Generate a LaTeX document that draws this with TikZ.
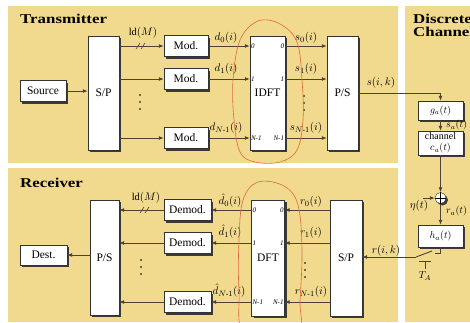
\documentclass[tikz,border=0pt]{standalone}
\usepackage{amsmath}
\usepackage{fontspec}
\setmainfont{Liberation Serif}
\newfontfamily\titlefont{Liberation Serif}[FakeStretch=1.25]
\usepackage{tikz}
\usetikzlibrary{arrows.meta,positioning,shadows}
\definecolor{PanelTan}{HTML}{F1D98E}
\definecolor{WireGrey}{HTML}{4A4234}
\definecolor{LoopRed}{HTML}{DE6A3C}
\definecolor{ShadeGrey}{HTML}{3C3A36}
\tikzset{
  panel/.style={fill=PanelTan,draw=none},
  block/.style={
    draw=black!80,
    fill=white,
    align=center,
    inner sep=1pt,
    minimum height=21pt,
    font=\fontsize{11.5}{13}\selectfont,
    drop shadow={shadow xshift=2pt,shadow yshift=-2pt,fill=ShadeGrey,opacity=1}
  },
  tallblock/.style={block,minimum width=31pt,minimum height=115pt},
  chanblock/.style={block,minimum width=45pt,minimum height=20pt,font=\fontsize{10}{11}\selectfont},
  flowarrow/.style={-{Latex[length=5pt,width=4pt]},line width=0.9pt,draw=WireGrey},
  wire/.style={line width=0.9pt,draw=WireGrey},
  sig/.style={font=\fontsize{11}{13}\selectfont,inner sep=0pt},
  port/.style={font=\fontsize{7}{8}\selectfont\itshape,inner sep=1pt},
  dotdot/.style={fill=WireGrey},
  paneltitle/.style={font=\titlefont\bfseries\fontsize{13.5}{13}\selectfont,inner sep=0pt,anchor=base west,align=left},
  redloop/.style={draw=LoopRed,line width=0.6pt}
}

\begin{document}
\begin{tikzpicture}[x=1pt,y=-1pt,node distance=20pt and 45pt]
    \fill[white] (0,0) rectangle (470,322);
    \clip (0,0) rectangle (470,322);
    % panels
    \fill[panel] (8,6) rectangle (398,163);
    \fill[panel] (8,168) rectangle (398,322);
    \fill[panel] (405,6) rectangle (475,322);
    \node[paneltitle] (txtitle) at (20,23) {Transmitter};
    \node[paneltitle] (rxtitle) at (20,187) {Receiver};
    \node[paneltitle] (chtitle) at (413,23) {Discrete};
    \node[paneltitle] (chtitleb) at (413,36) {Channel};

    % transmitter
    \node[block,minimum width=46pt] (source) at (43,91) {Source};
    \node[tallblock,minimum height=114pt] (sp) at (103.5,93) {S/P};
    \node[block,minimum width=44pt] (mod0) at (186,46) {Mod.};
    \node[block,minimum width=44pt] (mod1) at (186,79) {Mod.};
    \node[block,minimum width=44pt] (modN) at (186,138) {Mod.};
    \node[tallblock,minimum width=35pt,minimum height=114pt] (idft) at (267.5,93) {IDFT};
    \node[tallblock,minimum height=114pt] (ps) at (342.5,93) {P/S};

    \node[port,anchor=west] (iin0) at (idft.west |- mod0) {0};
    \node[port,anchor=west] (iin1) at (idft.west |- mod1) {1};
    \node[port,anchor=west] (iinN) at (idft.west |- modN) {N-1};
    \node[port,anchor=east] (iout0) at (idft.east |- mod0) {0};
    \node[port,anchor=east] (iout1) at (idft.east |- mod1) {1};
    \node[port,anchor=east] (ioutN) at (idft.east |- modN) {N-1};

    \draw[flowarrow] (source) -- (sp.west |- source);
    \draw[flowarrow] (sp.east |- mod0) -- (mod0);
    \draw[flowarrow] (sp.east |- mod1) -- (mod1);
    \draw[flowarrow] (sp.east |- modN) -- (modN);
    \draw[flowarrow] (mod0) -- (idft.west |- mod0);
    \draw[flowarrow] (mod1) -- (idft.west |- mod1);
    \draw[flowarrow] (modN) -- (idft.west |- modN);
    \draw[flowarrow] (idft.east |- mod0) -- (ps.west |- mod0);
    \draw[flowarrow] (idft.east |- mod1) -- (ps.west |- mod1);
    \draw[flowarrow] (idft.east |- modN) -- (ps.west |- modN);

    \node[sig,font=\fontsize{10.5}{12}\selectfont] (txbits) at (143,33) {ld$(M)$};
    \coordinate (txslash) at (141,46);
    \draw[wire,line width=0.6pt] ([xshift=-5pt,yshift=-3pt]txslash) -- ([xshift=-1pt,yshift=3pt]txslash)
      ([xshift=0pt,yshift=-3pt]txslash) -- ([xshift=4pt,yshift=3pt]txslash);
    \coordinate (txdotsA) at (140,102);
    \coordinate (txdotsB) at (304,103);
    \fill[dotdot] ([yshift=7pt]txdotsA) circle (1.2) (txdotsA) circle (1.2) ([yshift=-7pt]txdotsA) circle (1.2);
    \fill[dotdot] ([yshift=7pt]txdotsB) circle (1.2) (txdotsB) circle (1.2) ([yshift=-7pt]txdotsB) circle (1.2);
    \node[sig] (d0) at (226,38) {$d_0(i)$};
    \node[sig] (d1) at (226,69) {$d_1(i)$};
    \node[sig] (dN) at (226,128) {$d_{N\text{-}1}(i)$};
    \node[sig] (s0) at (306,38) {$s_0(i)$};
    \node[sig] (s1) at (306,69) {$s_1(i)$};
    \node[sig] (sN) at (306,128) {$s_{N\text{-}1}(i)$};
    \node[sig] (sik) at (381,83) {$s(i,k)$};

    % discrete channel
    \node[chanblock,minimum height=19pt] (ga) at (440.5,110.5) {$g_a(t)$};
    \node[chanblock,minimum height=24pt] (chan) at (440.5,143) {channel\\$c_a(t)$};
    \node[circle,draw=black!80,fill=white,minimum size=11pt,inner sep=0pt,
      drop shadow={shadow xshift=2pt,shadow yshift=-2pt,fill=ShadeGrey,opacity=1}] (adder) at (440.5,198) {};
    \draw[line width=0.6pt] (adder.north) -- (adder.south) (adder.west) -- (adder.east);
    \node[chanblock,minimum height=22pt] (ha) at (440.5,236) {$h_a(t)$};
    \coordinate (etain) at (423,198);

    \draw[flowarrow] (ps.east) -| (ga.north);
    \draw[flowarrow] (ga) -- (chan);
    \draw[flowarrow] (chan) -- (adder);
    \draw[flowarrow] (etain) -- (adder);
    \draw[flowarrow] (adder) -- (ha);
    \node[sig,anchor=west,font=\fontsize{10}{12}\selectfont] (sa) at (446,125) {$s_a(t)$};
    \node[sig,anchor=west,font=\fontsize{10}{12}\selectfont] (ra) at (446,211) {$r_a(t)$};
    \node[sig] (eta) at (419,206) {$\eta(t)$};

    % sampler
    \coordinate (swtop) at (440.5,253);
    \coordinate (swfix) at (435,253);
    \coordinate (swin) at (416,257);
    \coordinate (swtip) at (432,251);
    \coordinate (tbar) at (425,261);
    \draw[wire] (ha.south) -- (swtop) -- (swfix);
    \draw[wire] (swin) -- (swtip);
    \draw[wire] ([xshift=-6pt]tbar) -- ([xshift=6pt]tbar) (tbar) -- ([yshift=-8pt]tbar);
    \node[sig,font=\fontsize{10}{12}\selectfont] (ta) at (425,276) {$T_A$};

    % receiver
    \node[block,minimum width=47pt,minimum height=20pt] (dest) at (43.5,255) {Dest.};
    \node[tallblock,minimum width=29pt] (rps) at (104.5,257.5) {P/S};
    \node[block,minimum width=47pt] (dem0) at (187.5,210) {Demod.};
    \node[block,minimum width=47pt] (dem1) at (187.5,243) {Demod.};
    \node[block,minimum width=47pt] (demN) at (187.5,302) {Demod.};
    \node[tallblock,minimum width=33pt,minimum height=116pt] (dft) at (268,258) {DFT};
    \node[tallblock,minimum width=32pt,minimum height=116pt] (rsp) at (346,258) {S/P};

    \node[port,anchor=west] (din0) at (dft.west |- dem0) {0};
    \node[port,anchor=west] (din1) at (dft.west |- dem1) {1};
    \node[port,anchor=west] (dinN) at (dft.west |- demN) {N-1};
    \node[port,anchor=east] (dout0) at (dft.east |- dem0) {0};
    \node[port,anchor=east] (dout1) at (dft.east |- dem1) {1};
    \node[port,anchor=east] (doutN) at (dft.east |- demN) {N-1};

    \draw[flowarrow] (swin) -- (rsp.east |- swin);
    \draw[flowarrow] (rsp.west |- dem0) -- (dft.east |- dem0);
    \draw[flowarrow] (rsp.west |- dem1) -- (dft.east |- dem1);
    \draw[flowarrow] (rsp.west |- demN) -- (dft.east |- demN);
    \draw[flowarrow] (dft.west |- dem0) -- (dem0);
    \draw[flowarrow] (dft.west |- dem1) -- (dem1);
    \draw[flowarrow] (dft.west |- demN) -- (demN);
    \draw[flowarrow] (dem0) -- (rps.east |- dem0);
    \draw[flowarrow] (dem1) -- (rps.east |- dem1);
    \draw[flowarrow] (demN) -- (rps.east |- demN);
    \draw[flowarrow] (rps.west |- dest) -- (dest);

    \node[sig,font=\fontsize{10.5}{12}\selectfont] (rxbits) at (146,198) {ld$(M)$};
    \coordinate (rxslash) at (145,210);
    \draw[wire,line width=0.6pt] ([xshift=-5pt,yshift=-3pt]rxslash) -- ([xshift=-1pt,yshift=3pt]rxslash)
      ([xshift=0pt,yshift=-3pt]rxslash) -- ([xshift=4pt,yshift=3pt]rxslash);
    \coordinate (rxdotsA) at (141,267);
    \coordinate (rxdotsB) at (305,270);
    \fill[dotdot] ([yshift=7pt]rxdotsA) circle (1.2) (rxdotsA) circle (1.2) ([yshift=-7pt]rxdotsA) circle (1.2);
    \fill[dotdot] ([yshift=7pt]rxdotsB) circle (1.2) (rxdotsB) circle (1.2) ([yshift=-7pt]rxdotsB) circle (1.2);
    \node[sig] (dh0) at (230,201) {$\hat{d}_0(i)$};
    \node[sig] (dh1) at (230,232) {$\hat{d}_1(i)$};
    \node[sig] (dhN) at (229,291) {$\hat{d}_{N\text{-}1}(i)$};
    \node[sig] (r0) at (311,202) {$r_0(i)$};
    \node[sig] (r1) at (311,233) {$r_1(i)$};
    \node[sig] (rN) at (311,292) {$r_{N\text{-}1}(i)$};
    \node[sig] (rik) at (386,251) {$r(i,k)$};

    % hand-drawn marks
    \draw[redloop] plot[smooth cycle,tension=0.6] coordinates {(258,21) (280,24) (297,42) (302,80) (303,120) (297,150) (280,162) (255,162) (240,152) (234,120) (233,80) (240,40)};
    \draw[redloop] plot[smooth cycle,tension=0.6] coordinates {(258,182) (284,186) (298,205) (302,250) (300,300) (297,335) (245,335) (239,290) (239,240) (243,200)};
\end{tikzpicture}
\end{document}
